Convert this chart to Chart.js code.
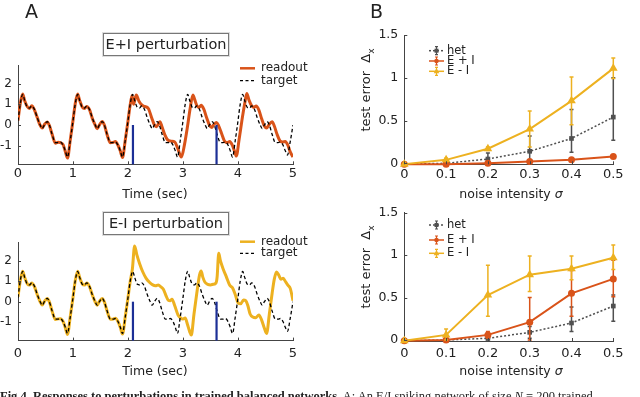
<!DOCTYPE html>
<html>
<head>
<meta charset="utf-8">
<script src="https://cdn.jsdelivr.net/npm/chart.js@4.4.1/dist/chart.umd.min.js"></script>
<style>
  html, body { margin:0; padding:0; background:#fff; }
  body { width:640px; height:397px; overflow:hidden; position:relative; font-family:'DejaVu Sans', sans-serif; color:#222; }
  canvas { position:absolute; left:0; top:0; pointer-events:none; }
  .lbl { position:absolute; white-space:nowrap; }
  .panel { font-size:19px; top:0px; }
  .tbox { position:absolute; left:103px; width:124px; height:21px; border:1px solid #777; box-shadow:0 0 0 1px #ddd; text-align:center; font-size:14.5px; line-height:21px; }
  .axt { font-size:12.5px; transform:translate(-50%,-50%); }
  .yt { font-size:13px; transform:translate(-50%,-50%) rotate(-90deg); }
  .cap { position:absolute; left:0px; top:389px; font-family:'Liberation Serif', serif; font-size:12.5px; white-space:nowrap; line-height:14px; }
</style>
</head>
<body>
<canvas id="cA1" width="640" height="397"></canvas>
<canvas id="cA2" width="640" height="397"></canvas>
<canvas id="cB1" width="640" height="397"></canvas>
<canvas id="cB2" width="640" height="397"></canvas>

<div class="lbl panel" style="left:25px;">A</div>
<div class="lbl panel" style="left:370px;">B</div>
<div class="tbox" style="top:33px;">E+I perturbation</div>
<div class="tbox" style="top:212px;">E-I perturbation</div>
<div class="lbl axt" style="left:155px; top:193px;">Time (sec)</div>
<div class="lbl axt" style="left:155px; top:370px;">Time (sec)</div>
<div class="lbl axt" style="left:511px; top:193px;">noise intensity <i>σ</i></div>
<div class="lbl axt" style="left:511px; top:370px;">noise intensity <i>σ</i></div>
<div class="lbl yt" style="left:367px; top:90px;">test error&nbsp;&nbsp;Δ<sub style="font-size:9px">x</sub></div>
<div class="lbl yt" style="left:367px; top:267px;">test error&nbsp;&nbsp;Δ<sub style="font-size:9px">x</sub></div>
<div class="cap"><b>Fig 4. Responses to perturbations in trained balanced networks.</b> A: An E/I spiking network of size <i>N</i> = 200 trained</div>

<script>
// ---------------- DATA ----------------
const timeTicks = [0, 1, 2, 3, 4, 5];
const signalTicks = [-1, 0, 1, 2];
const perturbTimes = [2.09, 3.61];

const targetPts = [
[0.00,0.2],[0.04,1.0],[0.085,1.48],[0.12,1.2],[0.17,0.85],[0.21,0.82],[0.25,0.92],[0.30,0.75],[0.35,0.35],[0.40,0.02],[0.44,-0.17],[0.48,0.0],[0.53,0.16],[0.57,0.0],[0.62,-0.45],[0.68,-0.85],[0.73,-0.85],[0.77,-0.82],[0.82,-0.98],[0.86,-1.25],[0.90,-1.55],[0.95,-0.75],
[1.00,0.2],[1.04,1.0],[1.085,1.48],[1.12,1.2],[1.17,0.85],[1.21,0.82],[1.25,0.92],[1.30,0.75],[1.35,0.35],[1.40,0.02],[1.44,-0.17],[1.48,0.0],[1.53,0.16],[1.57,0.0],[1.62,-0.45],[1.68,-0.85],[1.73,-0.85],[1.77,-0.82],[1.82,-0.98],[1.86,-1.25],[1.90,-1.55],[1.95,-0.75],
[2.00,0.2],[2.04,1.0],[2.085,1.48],[2.12,1.2],[2.17,0.85],[2.21,0.82],[2.25,0.92],[2.30,0.75],[2.35,0.35],[2.40,0.02],[2.44,-0.17],[2.48,0.0],[2.53,0.16],[2.57,0.0],[2.62,-0.45],[2.68,-0.85],[2.73,-0.85],[2.77,-0.82],[2.82,-0.98],[2.86,-1.25],[2.90,-1.55],[2.95,-0.75],
[3.00,0.2],[3.04,1.0],[3.085,1.48],[3.12,1.2],[3.17,0.85],[3.21,0.82],[3.25,0.92],[3.30,0.75],[3.35,0.35],[3.40,0.02],[3.44,-0.17],[3.48,0.0],[3.53,0.16],[3.57,0.0],[3.62,-0.45],[3.68,-0.85],[3.73,-0.85],[3.77,-0.82],[3.82,-0.98],[3.86,-1.25],[3.90,-1.55],[3.95,-0.75],
[4.00,0.2],[4.04,1.0],[4.085,1.48],[4.12,1.2],[4.17,0.85],[4.21,0.82],[4.25,0.92],[4.30,0.75],[4.35,0.35],[4.40,0.02],[4.44,-0.17],[4.48,0.0],[4.53,0.16],[4.57,0.0],[4.62,-0.45],[4.68,-0.85],[4.73,-0.85],[4.77,-0.82],[4.82,-0.98],[4.86,-1.25],[4.90,-1.45],[4.95,-0.8],
[5.00,0.0]
];

const readoutPlusPts = [
[0.00,0.22],[0.04,1.02],[0.085,1.5],[0.12,1.18],[0.17,0.88],[0.21,0.8],[0.25,0.93],[0.30,0.72],[0.35,0.36],[0.40,0.0],[0.44,-0.15],[0.48,0.02],[0.53,0.15],[0.57,-0.02],[0.62,-0.45],[0.68,-0.88],[0.73,-0.83],[0.77,-0.85],[0.82,-0.95],[0.86,-1.28],[0.90,-1.6],[0.95,-0.73],
[1.00,0.22],[1.04,1.02],[1.085,1.5],[1.12,1.2],[1.17,0.86],[1.21,0.8],[1.25,0.9],[1.30,0.74],[1.35,0.33],[1.40,0.02],[1.44,-0.18],[1.48,0.0],[1.53,0.17],[1.57,0.0],[1.62,-0.47],[1.68,-0.86],[1.73,-0.84],[1.77,-0.8],[1.82,-0.99],[1.86,-1.26],[1.90,-1.57],[1.95,-0.74],
[2.00,0.2],[2.04,0.98],[2.075,1.42],[2.10,1.0],[2.15,1.45],[2.20,1.15],[2.25,0.97],[2.30,0.9],[2.37,0.8],[2.43,0.35],[2.48,0.0],[2.52,-0.08],[2.58,0.16],[2.62,-0.1],[2.67,-0.48],[2.72,-0.72],[2.78,-0.78],[2.85,-0.82],[2.90,-1.1],[2.97,-1.55],
[3.03,-0.9],[3.08,-0.1],[3.13,0.8],[3.18,1.45],[3.21,1.25],[3.25,0.95],[3.29,0.85],[3.33,0.95],[3.38,0.75],[3.43,0.35],[3.48,0.0],[3.52,-0.12],[3.56,0.02],[3.61,0.12],[3.65,-0.05],[3.70,-0.4],[3.76,-0.8],[3.81,-0.85],[3.85,-0.8],[3.90,-1.0],[3.94,-1.3],[3.97,-1.5],
[4.02,-0.7],[4.07,0.2],[4.12,1.0],[4.16,1.52],[4.20,1.2],[4.25,0.92],[4.29,0.85],[4.33,0.92],[4.38,0.72],[4.43,0.3],[4.48,-0.05],[4.52,-0.15],[4.56,0.0],[4.62,0.16],[4.66,-0.05],[4.71,-0.45],[4.76,-0.75],[4.81,-0.82],[4.86,-0.8],[4.91,-1.0],[4.95,-1.3],[5.00,-1.55]
];

const readoutMinusPts = [
[0.00,0.24],[0.04,1.0],[0.085,1.49],[0.12,1.19],[0.17,0.87],[0.21,0.81],[0.25,0.91],[0.30,0.73],[0.35,0.34],[0.40,0.01],[0.44,-0.16],[0.48,0.01],[0.53,0.15],[0.57,-0.01],[0.62,-0.46],[0.68,-0.87],[0.73,-0.84],[0.77,-0.83],[0.82,-0.97],[0.86,-1.27],[0.90,-1.6],[0.95,-0.74],
[1.00,0.21],[1.04,1.01],[1.085,1.49],[1.12,1.19],[1.17,0.86],[1.21,0.81],[1.25,0.91],[1.30,0.74],[1.35,0.34],[1.40,0.01],[1.44,-0.17],[1.48,0.01],[1.53,0.16],[1.57,-0.01],[1.62,-0.46],[1.68,-0.86],[1.73,-0.85],[1.77,-0.81],[1.82,-0.98],[1.86,-1.26],[1.90,-1.58],[1.95,-0.74],
[2.00,0.2],[2.04,0.98],[2.08,1.6],[2.12,2.72],[2.16,2.3],[2.21,1.87],[2.27,1.45],[2.33,1.14],[2.39,0.95],[2.45,0.82],[2.50,0.78],[2.55,0.82],[2.60,0.72],[2.64,0.62],[2.69,0.3],[2.73,0.08],[2.77,0.05],[2.80,0.12],[2.85,-0.2],[2.91,-0.65],[2.96,-0.8],
[3.00,-0.85],[3.04,-0.8],[3.08,-1.1],[3.12,-1.45],[3.15,-1.63],[3.20,-0.6],[3.25,0.4],[3.30,1.3],[3.33,1.5],[3.36,1.2],[3.40,0.95],[3.45,0.85],[3.50,0.82],[3.55,0.85],[3.60,0.92],[3.62,1.2],[3.65,2.36],[3.68,2.0],[3.73,1.6],[3.79,1.2],[3.85,0.8],[3.90,0.68],[3.95,0.35],
[4.00,-0.05],[4.05,-0.1],[4.10,0.08],[4.14,0.05],[4.18,-0.2],[4.22,-0.6],[4.27,-0.75],[4.32,-0.78],[4.38,-0.65],[4.43,-0.9],[4.48,-1.3],[4.52,-1.55],[4.57,-0.6],[4.62,0.4],[4.66,1.1],[4.70,1.45],[4.74,1.3],[4.78,1.1],[4.82,1.14],[4.87,0.95],[4.91,0.8],[4.95,0.65],[5.00,0.05]
];

const sigma = [0, 0.1, 0.2, 0.3, 0.4, 0.5];
const sigmaTicks = [0, 0.1, 0.2, 0.3, 0.4, 0.5];
const errTicks = [0, 0.5, 1, 1.5];
const seriesNames = ['het', 'E + I', 'E - I'];

// B top
const hetTop      = [-0.01, 0.0, 0.05, 0.14, 0.29, 0.54];
const hetTopLo    = [-0.01, -0.01, 0.0, 0.0, 0.13, 0.27];
const hetTopHi    = [-0.01, 0.02, 0.12, 0.32, 0.63, 1.0];
const plusTop     = [-0.01, -0.01, 0.0, 0.02, 0.04, 0.08];
const plusTopLo   = [-0.01, -0.02, -0.01, 0.0, 0.02, 0.06];
const plusTopHi   = [-0.01, 0.0, 0.01, 0.04, 0.06, 0.1];
const minusTop    = [-0.01, 0.04, 0.17, 0.40, 0.73, 1.11];
const minusTopLo  = [-0.01, 0.02, 0.15, 0.19, 0.45, 0.99];
const minusTopHi  = [-0.01, 0.06, 0.19, 0.61, 1.01, 1.23];
// B bottom
const hetBot      = [-0.01, 0.0, 0.02, 0.09, 0.2, 0.4];
const hetBotLo    = [-0.01, -0.01, 0.0, 0.02, 0.1, 0.22];
const hetBotHi    = [-0.01, 0.01, 0.04, 0.16, 0.39, 0.53];
const plusBot     = [-0.01, 0.0, 0.06, 0.21, 0.55, 0.72];
const plusBotLo   = [-0.01, -0.01, 0.02, 0.0, 0.28, 0.51];
const plusBotHi   = [-0.01, 0.01, 0.1, 0.5, 0.82, 0.94];
const minusBot    = [-0.01, 0.06, 0.53, 0.77, 0.84, 0.97];
const minusBotLo  = [-0.01, 0.0, 0.28, 0.57, 0.71, 0.83];
const minusBotHi  = [-0.01, 0.13, 0.88, 0.99, 0.99, 1.12];

// ---------------- STYLE ----------------
const C_PLUS = '#D95319', C_MINUS = '#EDB120', C_HET = '#505050', C_AXIS = '#444', C_BLUE = '#1c2f96';
const FONT = 'DejaVu Sans';

const toXY = pts => pts.map(p => ({x: p[0], y: p[1]}));

const inTicks = {
  id: 'inTicks',
  afterDraw(chart) {
    const {ctx, chartArea: a, scales: {x, y}} = chart;
    ctx.save(); ctx.strokeStyle = C_AXIS; ctx.lineWidth = 1; ctx.setLineDash([]);
    x.ticks.forEach(t => { const px = Math.round(x.getPixelForValue(t.value)) + 0.5;
      ctx.beginPath(); ctx.moveTo(px, a.bottom); ctx.lineTo(px, a.bottom - 3); ctx.stroke(); });
    y.ticks.forEach(t => { const py = Math.round(y.getPixelForValue(t.value)) + 0.5;
      ctx.beginPath(); ctx.moveTo(a.left, py); ctx.lineTo(a.left + 3, py); ctx.stroke(); });
    ctx.restore();
  }
};

const perturbLines = {
  id: 'perturb',
  afterDatasetsDraw(chart) {
    const {ctx, chartArea: a, scales: {x, y}} = chart;
    ctx.save(); ctx.strokeStyle = C_BLUE; ctx.lineWidth = 2.2; ctx.setLineDash([]);
    perturbTimes.forEach(t => { const px = x.getPixelForValue(t);
      ctx.beginPath(); ctx.moveTo(px, y.getPixelForValue(0)); ctx.lineTo(px, a.bottom); ctx.stroke(); });
    ctx.restore();
  }
};

const legendA = {
  id: 'legendA',
  afterDraw(chart, args, o) {
    const {ctx} = chart;
    ctx.save();
    ctx.font = '12px ' + FONT; ctx.fillStyle = '#222'; ctx.textBaseline = 'middle';
    ctx.strokeStyle = o.color; ctx.lineWidth = 2.5; ctx.setLineDash([]);
    ctx.beginPath(); ctx.moveTo(240, o.y1); ctx.lineTo(255, o.y1); ctx.stroke();
    ctx.fillText('readout', 261, o.y1);
    ctx.strokeStyle = '#000'; ctx.lineWidth = 1.3; ctx.setLineDash([3, 2.5]);
    ctx.beginPath(); ctx.moveTo(240, o.y2); ctx.lineTo(255, o.y2); ctx.stroke();
    ctx.setLineDash([]);
    ctx.fillText('target', 261, o.y2);
    ctx.restore();
  }
};

function drawMarker(ctx, style, x, y, r, color) {
  ctx.fillStyle = color; ctx.strokeStyle = color; ctx.setLineDash([]);
  ctx.beginPath();
  if (style === 'rect') { ctx.rect(x - r, y - r, 2 * r, 2 * r); }
  else if (style === 'triangle') { ctx.moveTo(x, y - r * 1.15); ctx.lineTo(x + r, y + r * 0.7); ctx.lineTo(x - r, y + r * 0.7); ctx.closePath(); }
  else { ctx.arc(x, y, r, 0, Math.PI * 2); }
  ctx.fill();
}

const errBars = {
  id: 'errBars',
  beforeDatasetDraw(chart, args) {
    const ds = chart.data.datasets[args.index];
    if (!ds.errLo) return;
    const {ctx, scales: {x, y}} = chart;
    ctx.save(); ctx.strokeStyle = ds.errColor; ctx.lineWidth = 1.5; ctx.setLineDash([]);
    ds.data.forEach((p, i) => {
      const px = x.getPixelForValue(p.x), y1 = y.getPixelForValue(ds.errLo[i]), y2 = y.getPixelForValue(ds.errHi[i]);
      if (Math.abs(y1 - y2) < 1) return;
      ctx.beginPath(); ctx.moveTo(px, y1); ctx.lineTo(px, y2);
      ctx.moveTo(px - 2, y1); ctx.lineTo(px + 2, y1); ctx.moveTo(px - 2, y2); ctx.lineTo(px + 2, y2); ctx.stroke();
    });
    ctx.restore();
  }
};

const legendB = {
  id: 'legendB',
  afterDraw(chart, args, o) {
    const {ctx} = chart;
    const items = [
      {name: seriesNames[0], color: C_HET, style: 'rect', r: 2.5, dash: [2, 2]},
      {name: seriesNames[1], color: C_PLUS, style: 'circle', r: 2.8, dash: []},
      {name: seriesNames[2], color: C_MINUS, style: 'triangle', r: 3.5, dash: []},
    ];
    ctx.save();
    ctx.font = '11.5px ' + FONT; ctx.textBaseline = 'middle';
    items.forEach((it, i) => {
      const y = o.ys[i];
      ctx.strokeStyle = it.color; ctx.lineWidth = 1.5; ctx.setLineDash(it.dash);
      ctx.beginPath(); ctx.moveTo(429, y); ctx.lineTo(444, y); ctx.stroke();
      ctx.setLineDash([]); ctx.lineWidth = 1.2;
      ctx.beginPath(); ctx.moveTo(436.5, y - 4); ctx.lineTo(436.5, y + 4);
      ctx.moveTo(435, y - 4); ctx.lineTo(438, y - 4); ctx.moveTo(435, y + 4); ctx.lineTo(438, y + 4); ctx.stroke();
      drawMarker(ctx, it.style, 436.5, y, it.r * 0.8, it.color);
      ctx.fillStyle = '#222';
      ctx.fillText(it.name, 447, y);
    });
    ctx.restore();
  }
};

const customPoint = (style, r, color) => ({ pointStyle: style, pointRadius: r, pointBackgroundColor: color, pointBorderColor: color, pointBorderWidth: 0, pointHoverRadius: r });

function axisCommon(extra) {
  return Object.assign({
    type: 'linear',
    grid: { display: true, drawOnChartArea: false, drawTicks: false },
    border: { display: true, color: C_AXIS, width: 1 },
  }, extra);
}

function makeA(id, readout, color, area, legendYs) {
  new Chart(document.getElementById(id), {
    type: 'line',
    data: { datasets: [
      { label: 'target', data: toXY(targetPts), borderColor: '#000', borderWidth: 1.3, borderDash: [3.5, 2.5], pointRadius: 0, cubicInterpolationMode: 'monotone', order: 1 },
      { label: 'readout', data: toXY(readout), borderColor: color, borderWidth: 3, pointRadius: 0, cubicInterpolationMode: 'monotone', order: 2 },
    ]},
    options: {
      responsive: false, animation: false, devicePixelRatio: 1, events: [],
      layout: { padding: { left: 0, top: area.top, right: 640 - area.right, bottom: 397 - area.bottom - 20 } },
      plugins: { legend: { display: false }, tooltip: { enabled: false }, legendA: { color: color, y1: legendYs[0], y2: legendYs[1] } },
      scales: {
        x: axisCommon({ min: 0, max: 5,
          afterFit(s) { s.height = 20; },
          afterBuildTicks(s) { s.ticks = timeTicks.map(v => ({ value: v })); },
          ticks: { padding: area.xpad, font: { family: FONT, size: 13 }, color: '#222', maxRotation: 0, autoSkip: false, callback: v => String(v) } }),
        y: axisCommon({ min: -1.9, max: 2.9,
          afterFit(s) { s.width = area.left; },
          afterBuildTicks(s) { s.ticks = signalTicks.map(v => ({ value: v })); },
          ticks: { padding: 6, font: { family: FONT, size: 12 }, color: '#222', autoSkip: false, callback: v => String(v) } }),
      }
    },
    plugins: [inTicks, perturbLines, legendA]
  });
}

function makeB(id, vals, area, legendYs) {
  const mk = (label, data, lo, hi, color, style, r, dash, order, width) => Object.assign({
    label, data: sigma.map((s, i) => ({ x: s, y: data[i] })), errLo: lo, errHi: hi, errColor: color,
    borderColor: color, borderWidth: width, borderDash: dash, tension: 0, order, clip: false,
  }, customPoint(style, r, color));
  new Chart(document.getElementById(id), {
    type: 'line',
    data: { datasets: [
      mk(seriesNames[2], vals.minus, vals.minusLo, vals.minusHi, C_MINUS, 'triangle', 5, [], 1, 2),
      mk(seriesNames[1], vals.plus, vals.plusLo, vals.plusHi, C_PLUS, 'circle', 3.5, [], 2, 2),
      mk(seriesNames[0], vals.het, vals.hetLo, vals.hetHi, C_HET, 'rect', 3.3, [2, 2], 3, 1.5),
    ]},
    options: {
      responsive: false, animation: false, devicePixelRatio: 1, events: [],
      layout: { padding: { left: 0, top: area.top, right: 640 - area.right, bottom: 397 - area.bottom - 20 } },
      plugins: { legend: { display: false }, tooltip: { enabled: false }, legendB: { ys: legendYs } },
      scales: {
        x: axisCommon({ min: 0, max: 0.5,
          afterFit(s) { s.height = 20; },
          afterBuildTicks(s) { s.ticks = sigmaTicks.map(v => ({ value: v })); },
          ticks: { padding: area.xpad, font: { family: FONT, size: 13 }, color: '#222', maxRotation: 0, autoSkip: false, callback: v => String(v) } }),
        y: axisCommon({ min: -0.012, max: 1.5,
          afterFit(s) { s.width = area.left; },
          afterBuildTicks(s) { s.ticks = errTicks.map(v => ({ value: v })); },
          ticks: { padding: 6, font: { family: FONT, size: 12.5 }, color: '#222', autoSkip: false, callback: v => String(v) } }),
      }
    },
    plugins: [errBars, inTicks, legendB]
  });
}

makeA('cA1', readoutPlusPts, C_PLUS, { left: 18, right: 293, top: 65, bottom: 164.3, xpad: 2 }, [68.3, 80.7]);
makeA('cA2', readoutMinusPts, C_MINUS, { left: 18, right: 293, top: 242.3, bottom: 340.6, xpad: 5 }, [241.7, 253.3]);
makeB('cB1', { het: hetTop, hetLo: hetTopLo, hetHi: hetTopHi, plus: plusTop, plusLo: plusTopLo, plusHi: plusTopHi, minus: minusTop, minusLo: minusTopLo, minusHi: minusTopHi },
  { left: 404.3, right: 613.3, top: 35, bottom: 164.3, xpad: 3 }, [50.7, 61, 71.3]);
makeB('cB2', { het: hetBot, hetLo: hetBotLo, hetHi: hetBotHi, plus: plusBot, plusLo: plusBotLo, plusHi: plusBotHi, minus: minusBot, minusLo: minusBotLo, minusHi: minusBotHi },
  { left: 404.3, right: 613.3, top: 212.7, bottom: 341, xpad: 4.5 }, [225, 240, 253.3]);
</script>
</body>
</html>
